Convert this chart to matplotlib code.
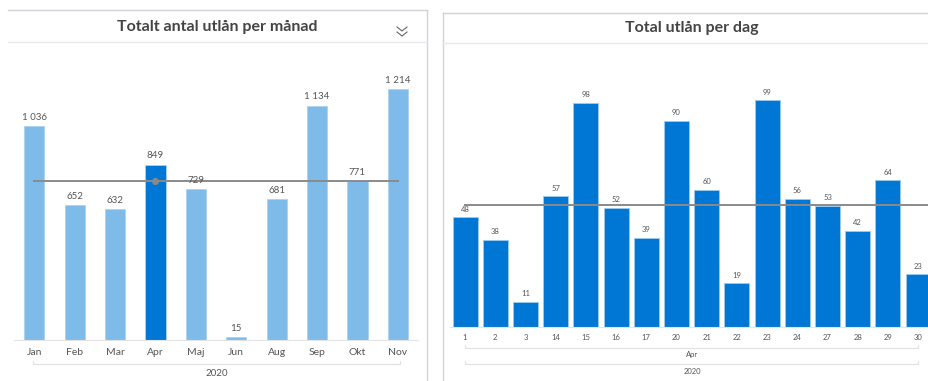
import matplotlib.pyplot as plt
import numpy as np

plt.rcParams['font.family'] = ['Lato', 'DejaVu Sans']

W, H = 929, 381

months = ['Jan', 'Feb', 'Mar', 'Apr', 'Maj', 'Jun', 'Aug', 'Sep', 'Okt', 'Nov']
month_loans = [1036, 652, 632, 849, 729, 15, 681, 1134, 771, 1214]
selected_month = 'Apr'

days = ['1', '2', '3', '14', '15', '16', '17', '20', '21', '22', '23', '24', '27', '28', '29', '30']
day_loans = [48, 38, 11, 57, 98, 52, 39, 90, 60, 19, 99, 56, 53, 42, 64, 23]

LIGHT = '#7fbbe9'
DARK = '#0077d5'
TXT = '#555555'


def fmt(v):
    return '{:,}'.format(v).replace(',', ' ')


def ax_at(fig, x0, y_top, x1, y_bot):
    # pixel box (from top-left) -> figure fraction
    return fig.add_axes([x0 / W, 1 - y_bot / H, (x1 - x0) / W, (y_bot - y_top) / H])


fig = plt.figure(figsize=(W / 100, H / 100), dpi=100)

# overlay for panel borders and group lines, in pixel coordinates
ov = fig.add_axes([0, 0, 1, 1])
ov.set_xlim(0, W)
ov.set_ylim(H, 0)
ov.axis('off')

# left panel frame
ov.plot([8, 427], [10, 10], color='#cfd3d8', lw=1)
ov.plot([427, 427], [10, H], color='#cfd3d8', lw=1)
ov.plot([8, 427], [42, 42], color='#e6e8eb', lw=1)
ov.text(217, 27, 'Totalt antal utlån per månad', ha='center', va='center',
        fontsize=11.5, fontweight='bold', color='#444444')
# chevron icon
for dy in (0, 5):
    ov.plot([397, 402, 407], [27 + dy, 31 + dy, 27 + dy], color='#666666', lw=0.8)

# right panel frame
ov.plot([443, W], [13, 13], color='#cfd3d8', lw=1)
ov.plot([443, 443], [13, H], color='#cfd3d8', lw=1)
ov.plot([443, W], [43, 43], color='#e6e8eb', lw=1)
ov.text(692, 28, 'Total utlån per dag', ha='center', va='center',
        fontsize=11.5, fontweight='bold', color='#444444')

# group lines under the category axes
ov.plot([33, 33, 400, 400], [361, 364, 364, 361], color='#e0e0e0', lw=0.8)
ov.text(217, 373, '2020', ha='center', va='center', fontsize=7, color=TXT)
ov.plot([465, 465, 918, 918], [345, 348, 348, 345], color='#e0e0e0', lw=0.8)
ov.text(692, 355, 'Apr', ha='center', va='center', fontsize=5.5, color=TXT)
ov.plot([465, 465, 918, 918], [361, 364, 364, 361], color='#e0e0e0', lw=0.8)
ov.text(692, 371, '2020', ha='center', va='center', fontsize=5.5, color=TXT)

# ---- left chart: monthly loans
ax1 = ax_at(fig, 14, 60, 418, 340)
x1 = np.arange(len(months))
cols = [DARK if m == selected_month else LIGHT for m in months]
ax1.bar(x1, month_loans, width=0.5, color=cols, edgecolor='#a9d2f2', linewidth=0.6)
ax1.set_xlim(-0.5, len(months) - 0.5)
ax1.set_ylim(0, 280 / 0.2067)
for xi, v in zip(x1, month_loans):
    ax1.text(xi, v + 20, fmt(v), ha='center', va='bottom', fontsize=7, color=TXT)
mean1 = np.mean(month_loans)
ax1.plot([0, len(months) - 1], [mean1, mean1], color='#8a8a8a', lw=1.4)
ax1.plot(months.index(selected_month), mean1, 'o', color='#8a8a8a', ms=4)
ax1.set_xticks(x1)
ax1.set_xticklabels(months, fontsize=7.5, color=TXT)
ax1.tick_params(axis='x', length=0, pad=6)
ax1.set_yticks([])
for s in ['top', 'right', 'left']:
    ax1.spines[s].set_visible(False)
ax1.spines['bottom'].set_color('#e3e3e3')
ax1.patch.set_alpha(0)

# ---- right chart: daily loans in April
ax2 = ax_at(fig, 450, 60, 450 + 16 * 30.2, 327)
x2 = np.arange(len(days))
ax2.bar(x2, day_loans, width=0.83, color=DARK, edgecolor='#9ccbf0', linewidth=0.6)
ax2.set_xlim(-0.5, len(days) - 0.5)
ax2.set_ylim(0, 267 / 2.29)
for xi, v in zip(x2, day_loans):
    ax2.text(xi, v + 2, str(v), ha='center', va='bottom', fontsize=5.5, color=TXT)
mean2 = np.mean(day_loans)
ax2.plot([0, len(days) - 1 + 0.5], [mean2, mean2], color='#8a8a8a', lw=1.4)
ax2.set_xticks(x2)
ax2.set_xticklabels(days, fontsize=5.5, color=TXT)
ax2.tick_params(axis='x', length=0, pad=5)
ax2.set_yticks([])
for s in ['top', 'right', 'left']:
    ax2.spines[s].set_visible(False)
ax2.spines['bottom'].set_color('#e3e3e3')
ax2.patch.set_alpha(0)

fig.savefig('out.png', dpi=100)
